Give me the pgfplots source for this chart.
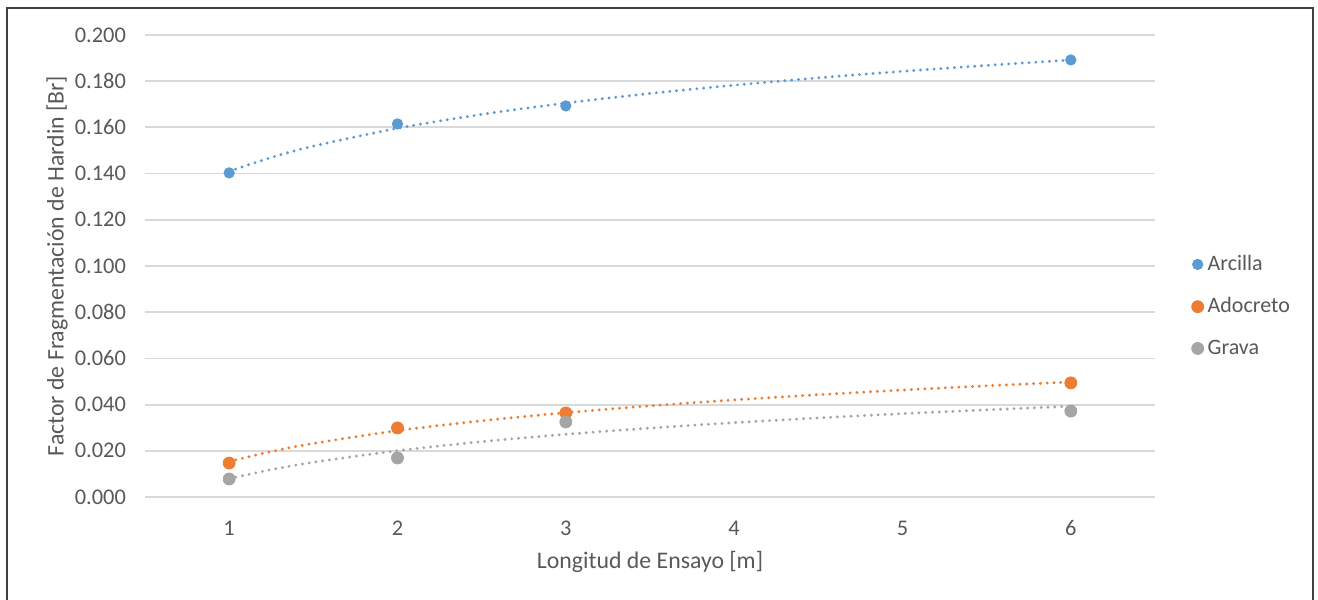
\documentclass[border=0pt]{standalone}
\usepackage{fontspec}
\setmainfont{Carlito}
\usepackage{pgfplots}
\pgfplotsset{compat=1.18}
\definecolor{cA}{HTML}{5B9BD5}
\definecolor{cB}{HTML}{ED7D31}
\definecolor{cC}{HTML}{A5A5A5}
\definecolor{gridc}{HTML}{D9D9D9}
\definecolor{txt}{HTML}{595959}
\begin{document}
\begin{tikzpicture}
\useasboundingbox (0pt,0pt) rectangle (659pt,300pt);
\fill[white] (0pt,0pt) rectangle (659pt,300pt);
\begin{axis}[
  at={(72.5pt,51.5pt)}, anchor=south west,
  scale only axis, width=505pt, height=231pt,
  xmin=0.5, xmax=6.5, ymin=0, ymax=0.2,
  xtick={1,2,3,4,5,6},
  ytick={0,0.02,0.04,0.06,0.08,0.1,0.12,0.14,0.16,0.18,0.2},
  ymajorgrids, grid style={gridc, line width=0.9pt},
  axis line style={draw=none},
  major tick length=0pt,
  /pgf/number format/assume math mode=true,
  yticklabel style={/pgf/number format/fixed, /pgf/number format/fixed zerofill, /pgf/number format/precision=3, anchor=east, xshift=-6pt},
  scaled y ticks=false,
  xticklabel style={anchor=center, yshift=-15.5pt},
  ticklabel style={font=\fontsize{11.2}{13}\selectfont, text=txt},
  label style={font=\fontsize{11.9}{14}\selectfont, text=txt},
  xlabel={Longitud de Ensayo [m]},
  ylabel={Factor de Fragmentación de Hardin [Br]},
  xlabel style={at={(axis description cs:0.5,-0.1407)}, anchor=center},
  ylabel style={at={(axis description cs:-0.0871,0.5)}, anchor=center},
  legend style={at={(1.03,0.413)}, anchor=west, draw=none, fill=none,
    font=\fontsize{11}{13}\selectfont, text=txt, row sep=8pt,
    /tikz/every even column/.append style={column sep=1pt}},
  legend cell align=left,
  legend image code/.code={\draw[#1] plot[only marks] coordinates {(0pt,0pt)};},
  trend/.style={line width=1.6pt, line cap=round, dash pattern=on 0pt off 3.4pt, smooth, no marks, forget plot},
]
% trendlines (logarithmic fits)
\addplot[trend, cA] coordinates {(1,0.14098)(1.25,0.14698)(1.5,0.15189)(2,0.15962)(2.5,0.16563)(3,0.17053)(3.5,0.17468)(4,0.17827)(4.5,0.18144)(5,0.18427)(5.5,0.18684)(6,0.18918)};
\addplot[trend, cB] coordinates {(1,0.01539)(1.25,0.01968)(1.5,0.02318)(2,0.02871)(2.5,0.03299)(3,0.03649)(3.5,0.03945)(4,0.04202)(4.5,0.04428)(5,0.04630)(5.5,0.04813)(6,0.04981)};
\addplot[trend, cC] coordinates {(1,0.00794)(1.25,0.01184)(1.5,0.01503)(2,0.02005)(2.5,0.02396)(3,0.02714)(3.5,0.02984)(4,0.03217)(4.5,0.03423)(5,0.03608)(5.5,0.03774)(6,0.03926)};
% data
\addplot[only marks, mark=*, mark size=2.6pt, color=cA] coordinates {(1,0.1403)(2,0.1615)(3,0.1693)(6,0.1892)};
\addlegendentry{Arcilla}
\addplot[only marks, mark=*, mark size=3pt, color=cB] coordinates {(1,0.0147)(2,0.0299)(3,0.0364)(6,0.0494)};
\addlegendentry{Adocreto}
\addplot[only marks, mark=*, mark size=3pt, color=cC] coordinates {(1,0.0078)(2,0.0169)(3,0.0325)(6,0.0372)};
\addlegendentry{Grava}
\end{axis}
\draw[black!75, line width=1pt] (3.5pt,-5pt) -- (3.5pt,296pt) -- (656.5pt,296pt) -- (656.5pt,-5pt);
\end{tikzpicture}
\end{document}
